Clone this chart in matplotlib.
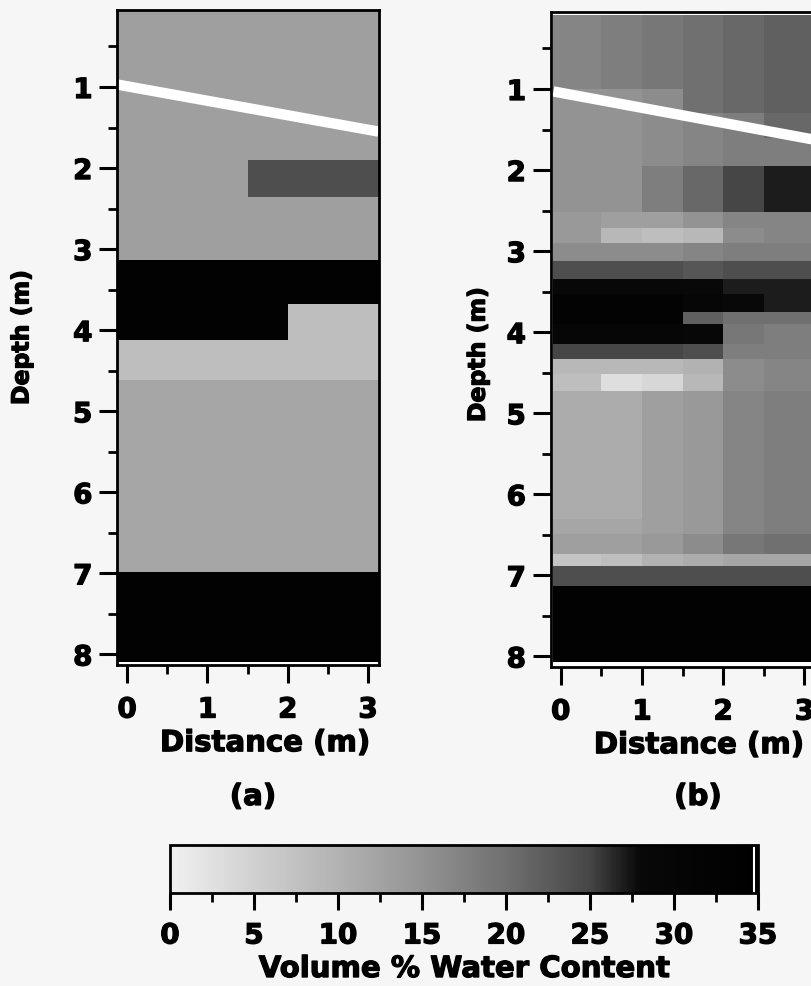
import numpy as np
import matplotlib
matplotlib.use("Agg")
import matplotlib.pyplot as plt
from matplotlib.colors import LinearSegmentedColormap, Normalize
from matplotlib.ticker import MultipleLocator
import matplotlib.patheffects as pe
import matplotlib.cm as cm

# ---------------- data ----------------
# panel (a): layered model
a_x_edges = [-0.12, 1.5, 2.0, 3.15]
a_depth_edges = [0.05, 1.9, 2.36, 3.13, 3.68, 4.12, 4.61, 6.98, 8.09]
a_values = [
    [13, 13, 13],
    [13, 24, 24],
    [13, 13, 13],
    [33, 33, 33],
    [33, 33, 8],
    [8, 8, 8],
    [12, 12, 12],
    [33, 33, 33],
]
a_line_x = [-0.12, 3.13]
a_line_depth = [0.97, 1.55]

# panel (b): estimated distribution
b_x_edges = [-0.09, 0.5, 1.0, 1.5, 2.0, 2.5, 3.2]
b_depth_edges = [0.09, 1.0, 1.3, 1.6, 1.95, 2.52, 2.72, 2.9, 3.12, 3.34, 3.53,
                 3.75, 3.9, 4.14, 4.33, 4.51, 4.72, 6.3, 6.49, 6.73, 6.88,
                 7.13, 8.07]
b_values = [
    [17, 18, 19, 20, 21, 22],
    [15, 15, 16, 20, 21, 22],
    [15, 15, 16, 17, 18, 21],
    [15, 15, 16, 17, 18, 18],
    [15, 15, 18, 21, 25, 27],
    [14, 13, 13, 15, 17, 17],
    [14, 9, 8, 9, 16, 17],
    [16, 16, 16, 17, 18, 18],
    [24, 24, 24, 23, 24, 24],
    [28, 28, 28, 28, 27, 27],
    [32, 32, 32, 30, 28, 27],
    [32, 32, 32, 22, 20, 20],
    [30, 30, 30, 29, 19, 18],
    [25, 25, 25, 24, 18, 18],
    [9, 9, 9, 10, 16, 17],
    [8, 3, 4, 9, 16, 17],
    [11, 11, 13, 14, 17, 18],
    [12, 12, 13, 14, 17, 18],
    [13, 13, 14, 16, 19, 20],
    [7, 8, 10, 11, 12, 12],
    [24, 24, 24, 24, 24, 24],
    [33, 33, 33, 33, 33, 33],
]
b_line_x = [-0.09, 3.2]
b_line_depth = [1.03, 1.64]

cbar_ticks = [0, 5, 10, 15, 20, 25, 30, 35]

# ---------------- style ----------------
W, H = 812, 986
fig = plt.figure(figsize=(W / 100, H / 100), dpi=100)
bg = "#f6f6f6"
fig.patch.set_facecolor(bg)
plt.rcParams["font.family"] = ["DejaVu Sans"]

cmap = LinearSegmentedColormap.from_list(
    "wc",
    [(0 / 35, "#f0f0f0"), (5 / 35, "#d0d0d0"), (10 / 35, "#b2b2b2"),
     (15 / 35, "#939393"), (20 / 35, "#707070"), (25 / 35, "#464646"),
     (28 / 35, "#080808"), (1.0, "#000000")])
norm = Normalize(0, 35)

tick_fs = 20
heavy = [pe.withStroke(linewidth=0.9, foreground="black")]


def px_axes(left, right, top, bottom):
    return [left / W, 1 - bottom / H, (right - left) / W, (bottom - top) / H]


def bolden(labels):
    for lab in labels:
        lab.set_fontweight("bold")
        lab.set_path_effects(heavy)


def style_axes(ax, xlab_pos, ylab_pos):
    for s in ax.spines.values():
        s.set_linewidth(2.0)
    ax.set_xlim(-0.12, 3.13)
    ax.set_ylim(8.13, 0.05)
    ax.xaxis.set_major_locator(MultipleLocator(1))
    ax.xaxis.set_minor_locator(MultipleLocator(0.5))
    ax.yaxis.set_major_locator(MultipleLocator(1))
    ax.yaxis.set_minor_locator(MultipleLocator(0.5))
    ax.tick_params(axis="both", which="major", length=13, width=2.2,
                   direction="out", labelsize=tick_fs)
    ax.tick_params(axis="both", which="minor", length=6.5, width=2.0,
                   direction="out")
    ax.tick_params(axis="x", which="major", pad=9)
    ax.tick_params(axis="y", which="major", pad=5)
    bolden(ax.get_xticklabels() + ax.get_yticklabels())
    xl = ax.set_xlabel("Distance (m)", fontsize=21, fontweight="bold")
    xl.set_path_effects(heavy)
    ax.xaxis.set_label_coords(*xlab_pos)
    yl = ax.set_ylabel("Depth (m)", fontsize=17, fontweight="bold")
    yl.set_path_effects(heavy)
    ax.yaxis.set_label_coords(*ylab_pos)
    ax.set_facecolor("white")


# panel (a)
ax_a = fig.add_axes(px_axes(117.5, 378.5, 10, 665))
ax_a.pcolormesh(a_x_edges, a_depth_edges, np.array(a_values), cmap=cmap,
                norm=norm, shading="flat")
ax_a.plot(a_line_x, a_line_depth, color="white", lw=7.5, solid_capstyle="butt")
style_axes(ax_a, (0.565, -0.098), (-0.322, 0.5))

# panel (b)
ax_b = fig.add_axes(px_axes(551, 815, 12, 667))
ax_b.pcolormesh(b_x_edges, b_depth_edges, np.array(b_values), cmap=cmap,
                norm=norm, shading="flat")
ax_b.plot(b_line_x, b_line_depth, color="white", lw=7.5, solid_capstyle="butt")
style_axes(ax_b, (0.56, -0.098), (-0.232, 0.477))

for xc, s in [(253, "(a)"), (698, "(b)")]:
    t = fig.text(xc / W, 1 - 797 / H, s, fontsize=21, fontweight="bold",
                 ha="center", va="center")
    t.set_path_effects(heavy)

# colorbar
cax = fig.add_axes(px_axes(170, 758, 845, 893))
sm = cm.ScalarMappable(norm=norm, cmap=cmap)
cb = fig.colorbar(sm, cax=cax, orientation="horizontal", ticks=cbar_ticks)
cb.outline.set_linewidth(2.0)
cax.axvline(34.75, color="white", lw=1.5)
cax.xaxis.set_minor_locator(MultipleLocator(2.5))
cax.tick_params(axis="x", which="major", length=12.5, width=2.2, pad=8,
                labelsize=tick_fs)
cax.tick_params(axis="x", which="minor", length=6.5, width=2.0)
bolden(cax.get_xticklabels())
cb.set_label("Volume % Water Content", fontsize=21, fontweight="bold",
             labelpad=4)
cax.xaxis.label.set_path_effects(heavy)

fig.savefig("out.png", dpi=100, facecolor=bg)
